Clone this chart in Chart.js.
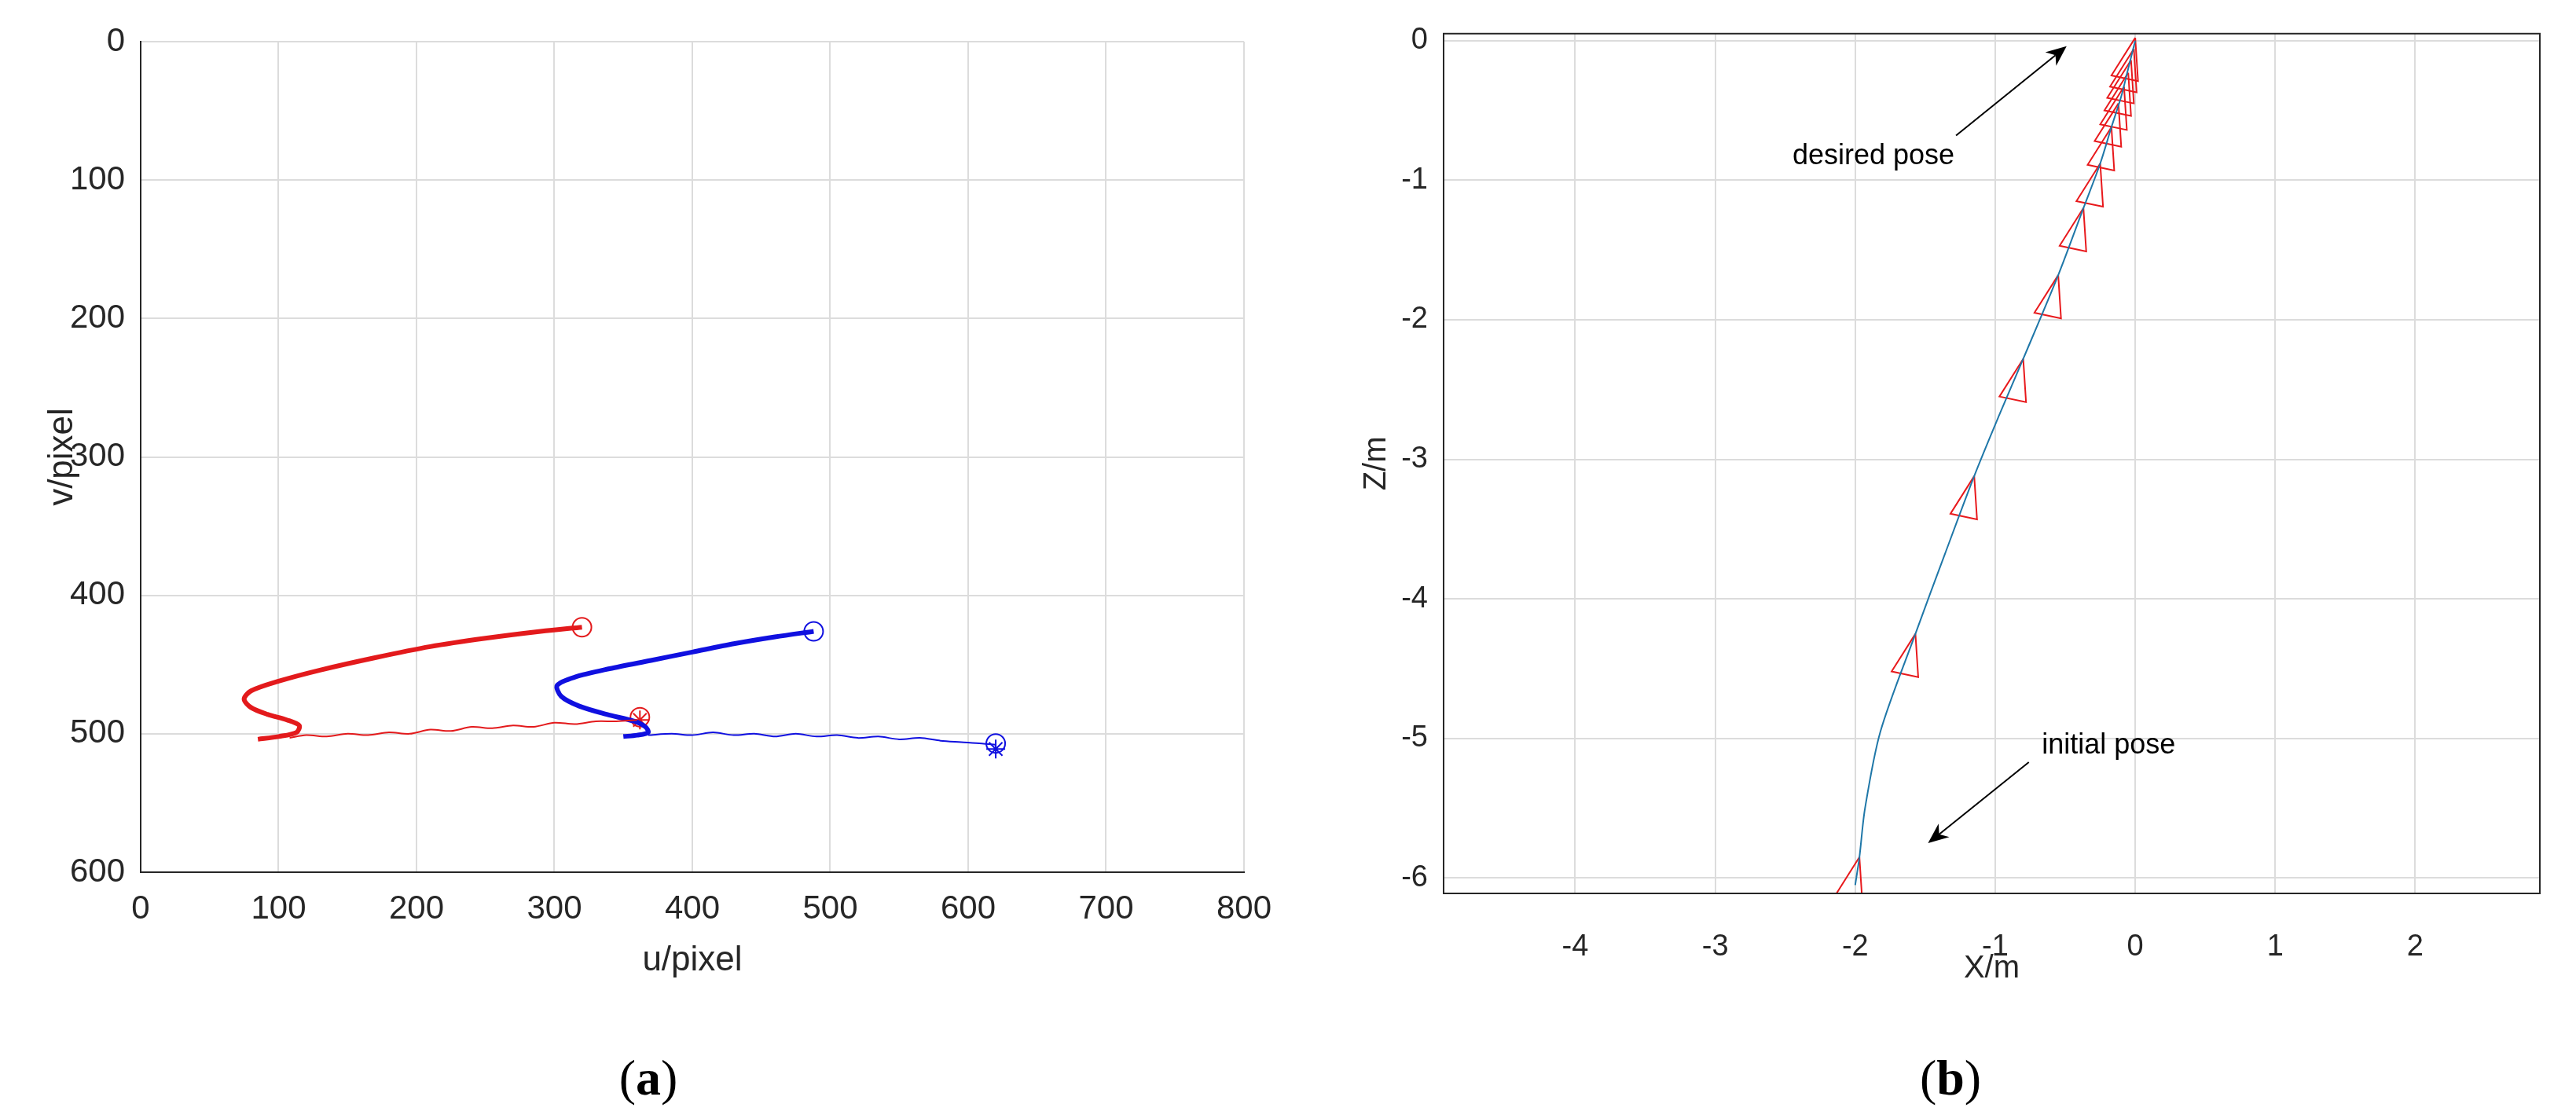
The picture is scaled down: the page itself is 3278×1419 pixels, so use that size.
<!DOCTYPE html>
<html><head><meta charset="utf-8">
<script src="https://cdn.jsdelivr.net/npm/chart.js@4.4.1/dist/chart.umd.min.js"></script>
<style>
body{margin:0;background:#fff;width:3278px;height:1419px;overflow:hidden;position:relative}
canvas{position:absolute;top:0}
.lab{position:absolute;font-family:"Liberation Serif","DejaVu Serif",serif;font-size:64px;line-height:64px;transform:translate(-50%,-50%);top:1372px}
</style></head><body>
<div style="position:absolute;left:0;top:0;width:1640px;height:1419px"><canvas id="c1"></canvas></div>
<div style="position:absolute;left:1640px;top:0;width:1638px;height:1419px"><canvas id="c2"></canvas></div>
<div class="lab" style="left:825px">(<b>a</b>)</div>
<div class="lab" style="left:2482px">(<b>b</b>)</div>
<script>
// ---- chart (a): image-plane feature trajectories ----
const leftXTicks=[0,100,200,300,400,500,600,700,800];
const leftYTicks=[0,100,200,300,400,500,600];
const redThick=[[320,423],[290,426],[250,431],[210,437],[170,445],[130,454],[100,462],[80,469],[75,475],[80,481],[92,486],[106,490],[115,494],[113,499],[100,502],[85,504]];
const redThin=[[108,503],[120,501],[135,502],[150,500],[165,501],[180,499],[195,500],[210,497],[225,498],[240,495],[255,496],[270,494],[285,495],[300,492],[315,493],[330,491],[345,491],[360,490]];
const blueThick=[[488,426],[460,430],[430,435],[400,441],[370,447],[340,453],[315,459],[302,465],[305,473],[318,480],[338,486],[358,491],[366,495],[368,499],[360,501],[350,502]];
const blueThin=[[368,501],[385,500],[400,501],[415,499],[430,501],[445,500],[460,502],[475,500],[490,502],[505,501],[520,503],[535,502],[550,504],[565,503],[580,505],[595,506],[610,507],[620,508]];
const circlesRed=[[320,423],[362,488]];
const starsRed=[[362,490]];
const circlesBlue=[[488,426],[620,507]];
const starsBlue=[[620,511]];
// ---- chart (b): camera path ----
const rightXTicks=[-4,-3,-2,-1,0,1,2];
const rightYTicks=[0,-1,-2,-3,-4,-5,-6];
const pathXZ=[[-2,-6.05],[-1.97,-5.85],[-1.93,-5.5],[-1.82,-4.95],[-1.57,-4.25],[-1.36,-3.68],[-1.15,-3.12],[-0.97,-2.68],[-0.8,-2.28],[-0.55,-1.68],[-0.37,-1.2],[-0.25,-0.88],[-0.17,-0.62],[-0.1,-0.4],[-0.05,-0.2],[0,0]];
const poses=[[-1.97,-5.85],[-1.57,-4.25],[-1.15,-3.12],[-0.8,-2.28],[-0.55,-1.68],[-0.37,-1.2],[-0.25,-0.88],[-0.17,-0.62],[-0.12,-0.45],[-0.08,-0.33],[-0.05,-0.23],[-0.03,-0.14],[-0.01,-0.06],[0,0.02]];
const triShape=[[0,0],[-0.17,-0.27],[0.02,-0.31],[0,0]];

const pts=a=>a.map(p=>({x:p[0],y:p[1]}));
const font='"Liberation Sans", Arial, sans-serif';
const grid='#dcdcdc';
Chart.defaults.font.family=font;
Chart.defaults.color='#262626';

function ln(data,color,w){return {data:pts(data),showLine:true,borderColor:color,borderWidth:w,pointRadius:0,fill:false,tension:0.3};}
function mk(data,color,style){return {data:pts(data),showLine:false,pointStyle:style,pointRadius:12,borderColor:color,backgroundColor:'rgba(0,0,0,0)',pointBorderWidth:2};}

new Chart(document.getElementById('c1'),{type:'scatter',
 data:{datasets:[ln(redThick,'#e31a1c',6),ln(redThin,'#e31a1c',2),ln(blueThick,'#1010e0',6),ln(blueThin,'#1010e0',2),
   mk(circlesRed,'#e31a1c','circle'),mk(starsRed,'#e31a1c','star'),mk(circlesBlue,'#1010e0','circle'),mk(starsBlue,'#1010e0','star')]},
 options:{responsive:true,maintainAspectRatio:false,animation:false,
  layout:{padding:{top:53,right:53,bottom:166,left:0}},
  plugins:{legend:{display:false},tooltip:{enabled:false}},
  scales:{
   x:{type:'linear',min:0,max:800,afterBuildTicks:a=>{a.ticks=leftXTicks.map(v=>({value:v}));},
    afterFit:a=>{a.height=143;},
    grid:{color:grid,drawTicks:false,lineWidth:2},border:{color:'#262626',width:2},
    ticks:{font:{size:42},padding:22},
    title:{display:true,text:'u/pixel',font:{size:44},padding:{top:2,bottom:4}}},
   y:{type:'linear',min:0,max:600,reverse:true,afterBuildTicks:a=>{a.ticks=leftYTicks.map(v=>({value:v}));},
    afterFit:a=>{a.width=179;},
    grid:{color:grid,drawTicks:false,lineWidth:2},border:{color:'#262626',width:2},
    ticks:{font:{size:42},padding:20},
    title:{display:true,text:'v/pixel',font:{size:44},padding:{top:53,bottom:0}}}
  }}});

const tris=poses.map(p=>({data:triShape.map(s=>({x:p[0]+s[0],y:p[1]+s[1]})),showLine:true,borderColor:'#e8191c',borderWidth:2,pointRadius:0,fill:false,tension:0}));

const annot={id:'annot',afterDatasetsDraw(c){
 const ctx=c.ctx,xs=c.scales.x,ys=c.scales.y,A=c.chartArea;
 ctx.save();
 ctx.strokeStyle='#262626';ctx.lineWidth=2;ctx.strokeRect(A.left,A.top,A.right-A.left,A.bottom-A.top);
 const arrows=[[-1.28,-0.68,-0.49,-0.04],[-0.76,-5.17,-1.48,-5.75]];
 arrows.forEach(a=>{const x1=xs.getPixelForValue(a[0]),y1=ys.getPixelForValue(a[1]),x2=xs.getPixelForValue(a[2]),y2=ys.getPixelForValue(a[3]);
  const ang=Math.atan2(y2-y1,x2-x1),L=26,W=11;
  ctx.strokeStyle='#000';ctx.lineWidth=2;ctx.beginPath();ctx.moveTo(x1,y1);ctx.lineTo(x2-L*Math.cos(ang)*0.7,y2-L*Math.sin(ang)*0.7);ctx.stroke();
  ctx.fillStyle='#000';ctx.beginPath();ctx.moveTo(x2,y2);
  ctx.lineTo(x2-L*Math.cos(ang)+W*Math.sin(ang),y2-L*Math.sin(ang)-W*Math.cos(ang));
  ctx.lineTo(x2-L*0.7*Math.cos(ang),y2-L*0.7*Math.sin(ang));
  ctx.lineTo(x2-L*Math.cos(ang)-W*Math.sin(ang),y2-L*Math.sin(ang)+W*Math.cos(ang));ctx.closePath();ctx.fill();});
 ctx.fillStyle='#000';ctx.font='36px '+font;ctx.textAlign='center';ctx.textBaseline='middle';
 ctx.fillText('desired pose',xs.getPixelForValue(-1.87),ys.getPixelForValue(-0.83));
 ctx.fillText('initial pose',xs.getPixelForValue(-0.19),ys.getPixelForValue(-5.05));
 ctx.restore();}};

new Chart(document.getElementById('c2'),{type:'scatter',
 data:{datasets:[{data:pts(pathXZ),showLine:true,borderColor:'#1f77a8',borderWidth:2,pointRadius:0,tension:0.3},...tris]},
 plugins:[annot],
 options:{responsive:true,maintainAspectRatio:false,animation:false,
  layout:{padding:{top:37,right:46,bottom:158,left:0}},
  plugins:{legend:{display:false},tooltip:{enabled:false}},
  scales:{
   x:{type:'linear',min:-4.94,max:2.89,afterBuildTicks:a=>{a.ticks=rightXTicks.map(v=>({value:v}));},
    afterFit:a=>{a.height=124;},
    grid:{color:grid,drawTicks:false,lineWidth:2},border:{color:'#262626',width:2},
    ticks:{font:{size:38},padding:46},
    title:{display:true,text:'X/m',font:{size:40},padding:{top:2,bottom:4}}},
   y:{type:'linear',min:-6.11,max:0.05,afterBuildTicks:a=>{a.ticks=rightYTicks.map(v=>({value:v}));},
    afterFit:a=>{a.width=197;},
    grid:{color:grid,drawTicks:false,lineWidth:2},border:{color:'#262626',width:2},
    ticks:{font:{size:38},padding:20},
    title:{display:true,text:'Z/m',font:{size:40},padding:{top:88,bottom:0}}}
  }}});
</script></body></html>
